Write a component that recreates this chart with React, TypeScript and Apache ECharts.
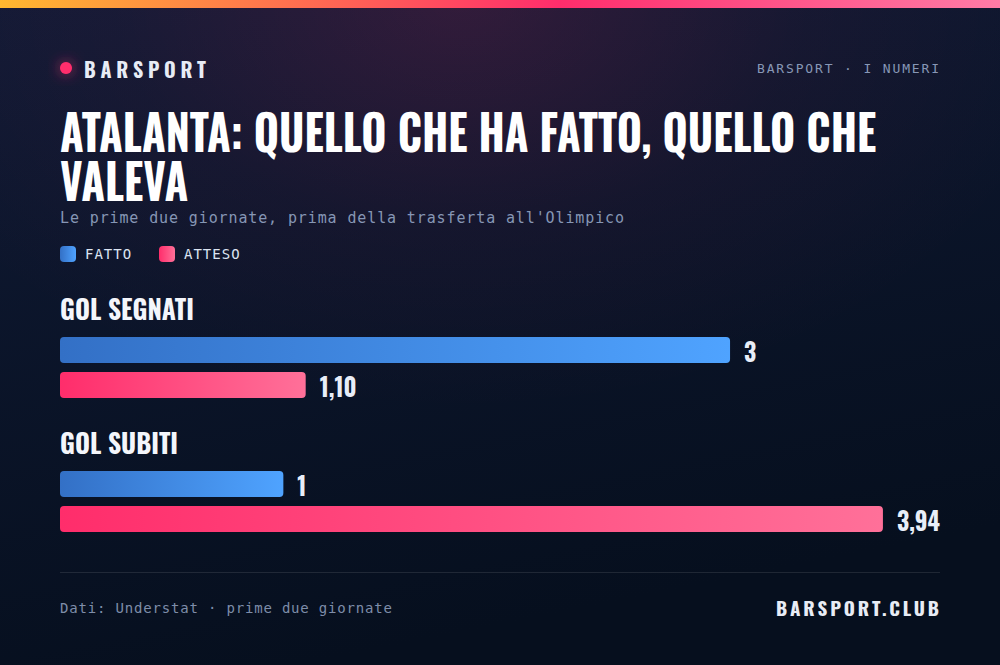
import React, { useEffect, useRef } from 'react';
import * as echarts from 'echarts';

// ---- data ----
const categories = ['GOL SEGNATI', 'GOL SUBITI'];
const seriesNames = ['FATTO', 'ATTESO'];
const fatto = [3, 1];
const atteso = [1.1, 3.94];
const decimals = [0, 2];

const TITLE_1 = 'ATALANTA: QUELLO CHE HA FATTO, QUELLO CHE';
const TITLE_2 = 'VALEVA';
const SUBTITLE = "Le prime due giornate, prima della trasferta all'Olimpico";
const BRAND = 'BARSPORT';
const KICKER = 'BARSPORT · I NUMERI';
const SOURCE = 'Dati: Understat · prime due giornate';
const SITE = 'BARSPORT.CLUB';

// ---- styles ----
const COND = "'Oswald','Liberation Sans Narrow','DejaVu Sans Condensed','Roboto Condensed','Liberation Sans',sans-serif";
const MONO = "'DejaVu Sans Mono','Liberation Mono',monospace";
const BLUE = ['#3370C6', '#4FA3FF'];
const PINK = ['#FF2D6B', '#FF7099'];

const ctx = document.createElement('canvas').getContext('2d') as CanvasRenderingContext2D;
const mw = (t: string, size: number, fam: string, weight = 'normal') => {
  ctx.font = `${weight} ${size}px ${fam}`;
  return ctx.measureText(t).width;
};
const fmt = (v: number, d: number) => v.toFixed(d).replace('.', ',');

export default function App() {
  const ref = useRef<HTMLDivElement>(null);
  useEffect(() => {
    document.body.style.margin = '0';
    const el = ref.current!;
    const chart = echarts.init(el, null, { renderer: 'svg' });

    const sx = 816 / mw(TITLE_1, 49, COND, 'bold');
    const sxs = sx * 1.08;
    const VAL = 25;
    const GAP = 14;

    const ls: Record<string, number> = {
      [BRAND]: (122 - mw(BRAND, 20, COND, 'bold')) / 7,
      [SITE]: (163 - mw(SITE, 19, COND, 'bold')) / 12,
      [KICKER]: (182 - mw(KICKER, 13, MONO)) / 18,
      [SUBTITLE]: (564 - mw(SUBTITLE, 15, MONO)) / 56,
      [SOURCE]: (332 - mw(SOURCE, 14, MONO)) / 35,
      FATTO: 1,
      ATTESO: 1,
    };
    const legendGap = 159 - (85 + mw('FATTO', 14, MONO));

    const grad = (c: string[]) =>
      new echarts.graphic.LinearGradient(0, 0, 1, 0, [
        { offset: 0, color: c[0] },
        { offset: 1, color: c[1] },
      ]);

    const makeRender = (sIdx: number) => (params: any, api: any) => {
      const v = api.value(0);
      const c = api.value(1);
      const p0 = api.coord([0, c]);
      const p1 = api.coord([v, c]);
      const cs = params.coordSys;
      const right = cs.x + cs.width;
      const label = fmt(v, decimals[sIdx]);
      const lw = mw(label, VAL, COND, 'bold') * sxs;
      const end = Math.min(p1[0], right - GAP - lw);
      const cy = p0[1] + (sIdx === 0 ? -17.5 : 17.5);
      const children: any[] = [
        {
          type: 'rect',
          shape: { x: p0[0], y: cy - 13, width: end - p0[0], height: 26, r: 4 },
          style: { fill: grad(sIdx === 0 ? BLUE : PINK) },
        },
        {
          type: 'text',
          x: end + GAP,
          y: cy + 1,
          scaleX: sxs,
          style: {
            text: label,
            fill: '#E9EEF8',
            fontSize: VAL,
            fontFamily: COND,
            fontWeight: 'bold',
            align: 'left',
            verticalAlign: 'middle',
          },
        },
      ];
      if (sIdx === 0) {
        children.push({
          type: 'text',
          x: p0[0],
          y: p0[1] - 59,
          scaleX: sxs,
          style: {
            text: categories[params.dataIndex],
            fill: '#F4F6FB',
            fontSize: 27,
            fontFamily: COND,
            fontWeight: 'bold',
            align: 'left',
            verticalAlign: 'middle',
          },
        });
      }
      return { type: 'group', children };
    };

    const seriesData = [fatto, atteso];
    const maxV = Math.max(...fatto, ...atteso);

    chart.setOption({
      animation: false,
      graphic: {
        elements: [
          {
            type: 'rect',
            silent: true,
            shape: { x: 0, y: 0, width: 1000, height: 665 },
            style: {
              fill: new echarts.graphic.LinearGradient(0, 0, 0.3, 1, [
                { offset: 0, color: '#101A35' },
                { offset: 1, color: '#060F1E' },
              ]),
            },
          },
          {
            type: 'rect',
            silent: true,
            shape: { x: 0, y: 0, width: 1000, height: 665 },
            style: {
              fill: new echarts.graphic.RadialGradient(0.46, 0.0, 0.62, [
                { offset: 0, color: 'rgba(255,45,108,0.15)' },
                { offset: 0.55, color: 'rgba(255,45,108,0.04)' },
                { offset: 1, color: 'rgba(255,45,108,0)' },
              ]),
            },
          },
          {
            type: 'rect',
            silent: true,
            shape: { x: 0, y: 0, width: 1000, height: 8 },
            style: {
              fill: new echarts.graphic.LinearGradient(0, 0, 1, 0, [
                { offset: 0, color: '#FFB830' },
                { offset: 0.56, color: '#FF2D6C' },
                { offset: 1, color: '#FF7BA6' },
              ]),
            },
          },
          {
            type: 'circle',
            silent: true,
            shape: { cx: 66, cy: 68, r: 6 },
            style: { fill: '#FF2D6C', shadowBlur: 14, shadowColor: 'rgba(255,45,108,0.7)' },
          },
          {
            type: 'text',
            silent: true,
            x: 84,
            y: 69,
            style: {
              text: BRAND,
              fill: '#E8ECF5',
              fontSize: 20,
              fontFamily: COND,
              fontWeight: 'bold',
              align: 'left',
              verticalAlign: 'middle',
            },
          },
          {
            type: 'text',
            silent: true,
            x: 939 + ls[KICKER],
            y: 68.5,
            style: {
              text: KICKER,
              fill: '#8797B6',
              fontSize: 13,
              fontFamily: MONO,
              align: 'right',
              verticalAlign: 'middle',
            },
          },
          {
            type: 'text',
            silent: true,
            x: 60,
            y: 154,
            scaleX: sx,
            style: {
              text: TITLE_1 + '\n' + TITLE_2,
              fill: '#FFFFFF',
              fontSize: 49,
              lineHeight: 49,
              fontFamily: COND,
              fontWeight: 'bold',
              align: 'left',
              verticalAlign: 'middle',
            },
          },
          {
            type: 'text',
            silent: true,
            x: 60,
            y: 218,
            style: {
              text: SUBTITLE,
              fill: '#8696B5',
              fontSize: 15,
              fontFamily: MONO,
              align: 'left',
              verticalAlign: 'middle',
            },
          },
          {
            type: 'line',
            silent: true,
            shape: { x1: 60, y1: 572.5, x2: 940, y2: 572.5 },
            style: { stroke: 'rgba(255,255,255,0.1)', lineWidth: 1 },
          },
          {
            type: 'text',
            silent: true,
            x: 60,
            y: 608,
            style: {
              text: SOURCE,
              fill: '#7E8DA9',
              fontSize: 14,
              fontFamily: MONO,
              align: 'left',
              verticalAlign: 'middle',
            },
          },
          {
            type: 'text',
            silent: true,
            x: 939 + ls[SITE],
            y: 607,
            style: {
              text: SITE,
              fill: '#E8ECF5',
              fontSize: 19,
              fontFamily: COND,
              fontWeight: 'bold',
              align: 'right',
              verticalAlign: 'middle',
            },
          },
        ],
      },
      legend: {
        left: 60,
        top: 246,
        padding: 0,
        itemWidth: 16,
        itemHeight: 16,
        itemGap: legendGap,
        icon: 'roundRect',
        selectedMode: false,
        data: seriesNames,
        textStyle: { color: '#DCE4F2', fontFamily: MONO, fontSize: 14, padding: [0, 0, 0, 4] },
      },
      grid: { left: 60, right: 60, top: 300.5, height: 268 },
      xAxis: { type: 'value', min: 0, max: maxV, show: false },
      yAxis: { type: 'category', data: categories, inverse: true, show: false },
      series: seriesNames.map((name, i) => ({
        name,
        type: 'custom',
        silent: true,
        itemStyle: { color: grad(i === 0 ? BLUE : PINK) },
        encode: { x: 0, y: 1 },
        data: seriesData[i].map((v, j) => [v, j]),
        renderItem: makeRender(i),
      })),
    });

    const applySpacing = () => {
      el.querySelectorAll('text').forEach((t) => {
        const k = t.textContent || '';
        if (ls[k] !== undefined) t.setAttribute('letter-spacing', String(ls[k]));
      });
    };
    applySpacing();
    chart.on('finished', applySpacing);
    const raf = requestAnimationFrame(applySpacing);
    const to = setTimeout(applySpacing, 50);

    return () => {
      cancelAnimationFrame(raf);
      clearTimeout(to);
      chart.dispose();
    };
  }, []);

  return (
    <div
      ref={ref}
      style={{ position: 'absolute', left: 0, top: 0, width: 1000, height: 665 }}
    />
  );
}
